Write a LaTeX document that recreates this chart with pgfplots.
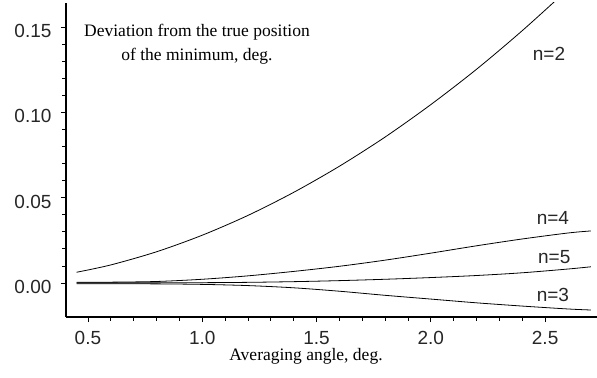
\documentclass[border=0pt]{standalone}
\usepackage{fontspec}
\setmainfont{Liberation Serif}
\setsansfont{Liberation Sans}
\usepackage{pgfplots}
\pgfplotsset{compat=1.18}
\begin{document}
\begin{tikzpicture}
\useasboundingbox (-66bp,-61bp) rectangle (531bp,317bp);
\begin{axis}[
  at={(0,0)}, anchor=south west,
  scale only axis, width=531bp, height=314bp,
  xmin=0.404, xmax=2.727, ymin=-0.0199, ymax=0.1640,
  axis lines=left, axis line style={-, line width=1.1bp},
  tick align=outside,
  major tick length=5bp, minor tick length=3.5bp,
  tick style={line width=0.8bp, black},
  xtick={0.5,1.0,1.5,2.0,2.5}, minor x tick num=4,
  ytick={0,0.05,0.10,0.15}, minor y tick num=4,
  /pgf/number format/assume math mode=true,
  xticklabel style={/pgf/number format/fixed, /pgf/number format/fixed zerofill, /pgf/number format/precision=1},
  yticklabel style={/pgf/number format/fixed, /pgf/number format/fixed zerofill, /pgf/number format/precision=2},
  ticklabel style={font=\sffamily\fontsize{19bp}{22bp}\selectfont, text=black!85},
  yticklabel style={anchor=east, xshift=-6bp, yshift=-4bp},
  xticklabel style={anchor=base, yshift=-22.5bp},
  xlabel={Averaging angle, deg.},
  xlabel style={at={(axis description cs:0.452,-0.139)}, anchor=base, font=\fontsize{17.5bp}{20bp}\selectfont},
  every axis plot/.append style={black, line width=0.8bp},
  clip=true,
]
\addplot[smooth] coordinates {(0.45,0.0063) (0.6,0.0106) (0.8,0.0183) (1.0,0.028) (1.2,0.0396) (1.4,0.0531) (1.6,0.0684) (1.8,0.0855) (2.0,0.1045) (2.2,0.1252) (2.4,0.1478) (2.6,0.172) (2.7,0.184)};
\addplot[smooth] coordinates {(0.45,0.0004) (0.6,0.0005) (0.8,0.0009) (1.0,0.0022) (1.2,0.0042) (1.4,0.0068) (1.6,0.0098) (1.8,0.0134) (2.0,0.0175) (2.2,0.0218) (2.4,0.0258) (2.6,0.0293) (2.7,0.0305)};
\addplot[smooth] coordinates {(0.45,0.0001) (0.8,0.0001) (1.0,0.0002) (1.2,0.0004) (1.4,0.0008) (1.6,0.0014) (1.8,0.0022) (2.0,0.0032) (2.2,0.0044) (2.4,0.0060) (2.6,0.0082) (2.7,0.0095)};
\addplot[smooth] coordinates {(0.45,-0.0004) (0.8,-0.0005) (1.0,-0.0008) (1.2,-0.0015) (1.4,-0.0028) (1.6,-0.0048) (1.8,-0.0072) (2.0,-0.0094) (2.2,-0.0116) (2.4,-0.0135) (2.6,-0.0152) (2.7,-0.0158)};
\node[font=\sffamily\fontsize{19bp}{22bp}\selectfont, text=black!85] at (axis cs:2.517,0.134) {n=2};
\node[font=\sffamily\fontsize{19bp}{22bp}\selectfont, text=black!85] at (axis cs:2.534,0.038) {n=4};
\node[font=\sffamily\fontsize{19bp}{22bp}\selectfont, text=black!85] at (axis cs:2.540,0.0152) {n=5};
\node[font=\sffamily\fontsize{19bp}{22bp}\selectfont, text=black!85] at (axis cs:2.534,-0.007) {n=3};
\node[anchor=base, font=\fontsize{17.5bp}{20bp}\selectfont] at (axis cs:0.977,0.1441) {Deviation from the true position};
\node[anchor=base, font=\fontsize{17.5bp}{20bp}\selectfont] at (axis cs:0.977,0.1306) {of the minimum, deg.};
\end{axis}
\end{tikzpicture}
\end{document}
